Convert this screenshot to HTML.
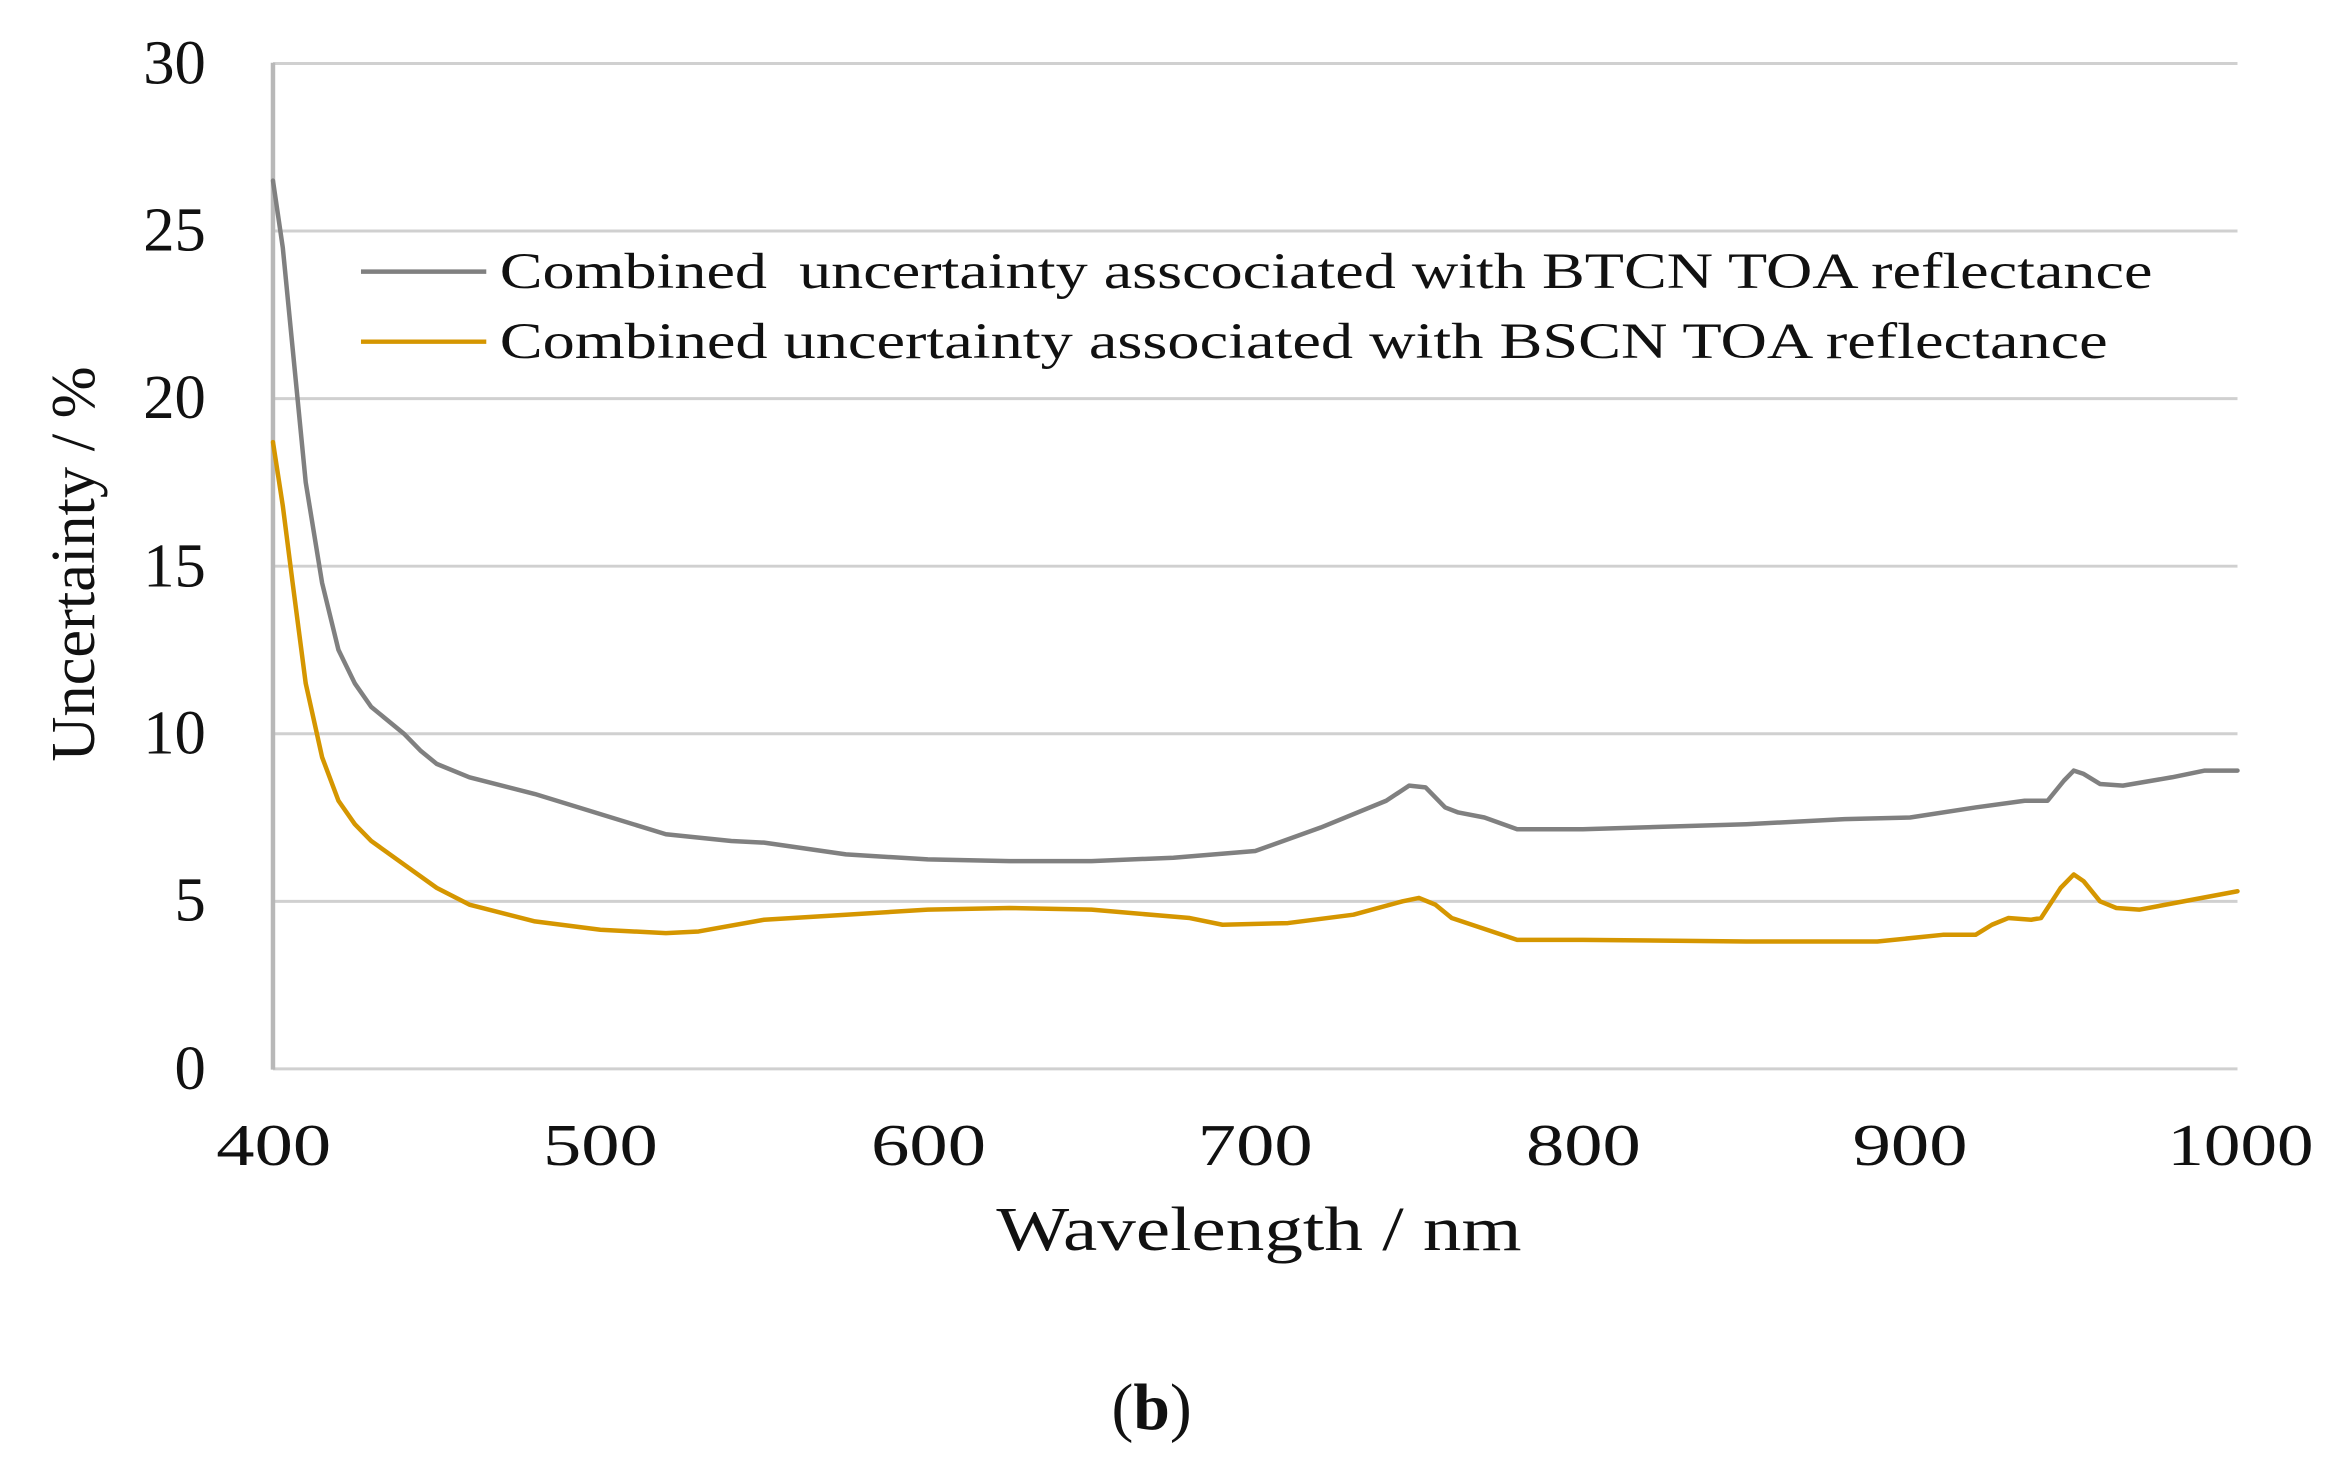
<!DOCTYPE html>
<html><head><style>html,body{margin:0;padding:0;background:#fff;}svg{display:block;}</style></head>
<body>
<svg width="2327" height="1468" viewBox="0 0 1560 984" xmlns="http://www.w3.org/2000/svg" font-family="'Liberation Serif', serif">
<rect width="1560" height="984" fill="#fff"/>
<g stroke="#d0d0d0" stroke-width="2">
<line x1="183" y1="42.5" x2="1500" y2="42.5"/>
<line x1="183" y1="154.8" x2="1500" y2="154.8"/>
<line x1="183" y1="267.2" x2="1500" y2="267.2"/>
<line x1="183" y1="379.5" x2="1500" y2="379.5"/>
<line x1="183" y1="491.8" x2="1500" y2="491.8"/>
<line x1="183" y1="604.2" x2="1500" y2="604.2"/>
<line x1="183" y1="716.5" x2="1500" y2="716.5"/>
</g>
<line x1="183" y1="42" x2="183" y2="717" stroke="#b8b8b8" stroke-width="3"/>
<g font-size="42" fill="#111" text-anchor="end">
<text x="138" y="56">30</text><text x="138" y="168">25</text><text x="138" y="280">20</text>
<text x="138" y="393">15</text><text x="138" y="505">10</text><text x="138" y="617">5</text><text x="138" y="730">0</text>
</g>
<g font-size="40" fill="#111">
<text x="145" y="781" textLength="77" lengthAdjust="spacingAndGlyphs">400</text>
<text x="364" y="781" textLength="77" lengthAdjust="spacingAndGlyphs">500</text>
<text x="584" y="781" textLength="77" lengthAdjust="spacingAndGlyphs">600</text>
<text x="803" y="781" textLength="77" lengthAdjust="spacingAndGlyphs">700</text>
<text x="1023" y="781" textLength="77" lengthAdjust="spacingAndGlyphs">800</text>
<text x="1242" y="781" textLength="77" lengthAdjust="spacingAndGlyphs">900</text>
<text x="1453" y="781" textLength="98" lengthAdjust="spacingAndGlyphs">1000</text>
</g>
<text x="668" y="838" font-size="42" fill="#111" textLength="352" lengthAdjust="spacingAndGlyphs">Wavelength / nm</text>
<text transform="translate(63,378) rotate(-90)" font-size="42" text-anchor="middle" fill="#111" textLength="265" lengthAdjust="spacingAndGlyphs">Uncertainty / %</text>
<text x="772" y="958" font-size="44" text-anchor="middle" fill="#111"><tspan>(</tspan><tspan font-weight="bold">b</tspan><tspan>)</tspan></text>
<line x1="242" y1="182" x2="326" y2="182" stroke="#808080" stroke-width="3"/>
<line x1="242" y1="229" x2="326" y2="229" stroke="#d59600" stroke-width="3"/>
<text x="335" y="193" font-size="34" fill="#111" xml:space="preserve" textLength="1108" lengthAdjust="spacingAndGlyphs">Combined  uncertainty asscociated with BTCN TOA reflectance</text>
<text x="335" y="240" font-size="34" fill="#111" textLength="1078" lengthAdjust="spacingAndGlyphs">Combined uncertainty associated with BSCN TOA reflectance</text>
<g fill="none" stroke-linejoin="round" stroke-linecap="round" transform="translate(183,716.5) scale(2.195,-22.47) translate(-400,0)">
<polyline vector-effect="non-scaling-stroke" stroke-width="4.5" stroke="#808080" points="400,26.5 403,24.5 406,21.5 410,17.5 415,14.5 420,12.5 425,11.5 430,10.8 440,10 445,9.5 450,9.1 460,8.7 480,8.2 500,7.6 520,7.0 540,6.8 550,6.75 575,6.4 600,6.25 625,6.2 650,6.2 675,6.3 700,6.5 720,7.2 740,8.0 747,8.45 752,8.4 758,7.8 762,7.65 770,7.5 780,7.15 800,7.15 850,7.3 880,7.45 900,7.5 920,7.8 935,8.0 942,8.0 947,8.6 950,8.9 953,8.8 958,8.5 965,8.45 980,8.7 990,8.9 1000,8.9"/>
<polyline vector-effect="non-scaling-stroke" stroke-width="4.5" stroke="#d59600" points="400,18.7 403,16.8 406,14.5 410,11.5 415,9.3 420,8 425,7.3 430,6.8 440,6.1 450,5.4 460,4.9 480,4.4 500,4.15 520,4.05 530,4.1 550,4.45 575,4.6 600,4.75 625,4.8 650,4.75 680,4.5 690,4.3 710,4.35 730,4.6 745,5.0 750,5.1 755,4.9 760,4.5 780,3.85 800,3.85 850,3.8 890,3.8 910,4.0 920,4.0 925,4.3 930,4.5 937,4.45 940,4.5 946,5.4 950,5.8 953,5.6 958,5.0 963,4.8 970,4.75 1000,5.3"/>
</g>
</svg>
</body></html>
